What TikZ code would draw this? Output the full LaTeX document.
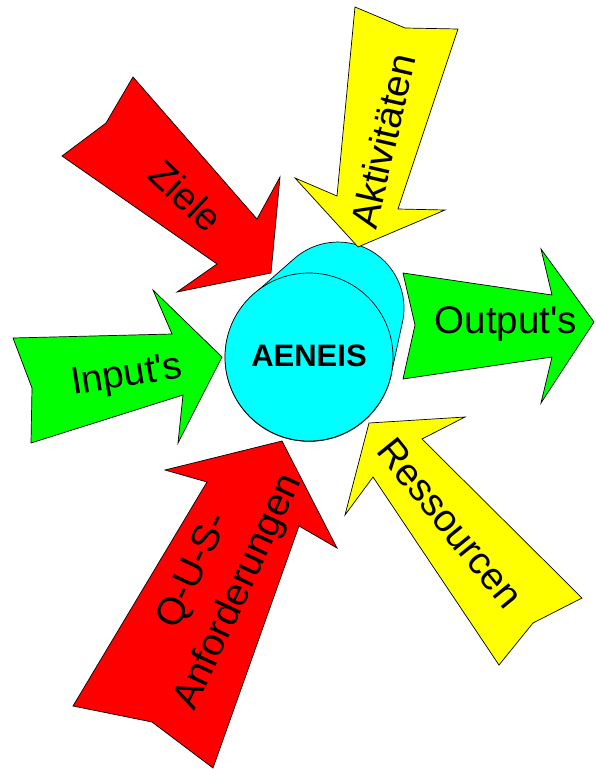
\documentclass[tikz,border=0pt]{standalone}
\usepackage{fontspec}
\setmainfont{Liberation Sans}
\newfontfamily\lab{Liberation Sans}
\definecolor{arrred}{RGB}{255,0,0}
\definecolor{arrgreen}{RGB}{0,255,0}
\definecolor{arryellow}{RGB}{255,255,0}
\definecolor{drumcyan}{RGB}{0,255,255}
\begin{document}
\begin{tikzpicture}[x=1pt,y=-1pt,
  arrowshape/.style={draw=black, line width=0.7pt, line join=miter},
  drum/.style={draw=black, line width=0.7pt, fill=drumcyan},
  lbl/.style={font=\lab\fontsize{38.5}{50}\selectfont, inner sep=0pt, align=center},
]
\useasboundingbox (0,0) rectangle (595,769);

% drum (AENEIS)
\path[drum] (391,375) -- (402.5,322) arc[start angle=12.2, end angle=-131, radius=66]
  -- (254,294) arc[start angle=-131, end angle=-347.8, radius=84] -- cycle;
\node[drum, circle, minimum size=168pt, inner sep=0pt] (front) at (309,357) {};
\node[font=\lab\bfseries\fontsize{31}{36}\selectfont, inner sep=0pt] (aeneis) at (309,356) {AENEIS};

% Ziele
\path[arrowshape, fill=arrred] (133,77) -- (257,219) -- (280,177) -- (271,273) -- (177,292)
  -- (217,264) -- (62,156) -- (106,123) -- cycle;
% Aktivitaeten
\path[arrowshape, fill=arryellow] (355,7) -- (405,28) -- (458,29) -- (398,209) -- (445,210)
  -- (358,247) -- (295,178) -- (337,196) -- cycle;
% Output's
\path[arrowshape, fill=arrgreen] (403,273) -- (552,295) -- (541,249) -- (594,322) -- (541,403)
  -- (552,357) -- (403,379) -- (415,325) -- cycle;
% Input's
\path[arrowshape, fill=arrgreen] (13,338) -- (172,334) -- (153,290) -- (222,357) -- (178,443)
  -- (183,395) -- (31,443) -- (32,388) -- cycle;
% Ressourcen
\path[arrowshape, fill=arryellow] (369,423) -- (465,417) -- (422,439) -- (582,598) -- (533,623)
  -- (499,665) -- (373,477) -- (345,515) -- cycle;
% Q-U-S-Anforderungen
\path[arrowshape, fill=arrred] (282,441) -- (337,548) -- (299,526) -- (213,768) -- (152,722)
  -- (73,706) -- (207,482) -- (165,470) -- cycle;

\node[lbl, rotate=-43] (ziele) at (186,196) {Ziele};
\node[lbl, rotate=77] (akt) at (383,141) {Aktivitäten};
\node[lbl] (out) at (506,324) {Output's};
\node[lbl, rotate=9] (in) at (127,377) {Input's};
\node[lbl, rotate=-51] (res) at (450,523) {Ressourcen};
\node[lbl, rotate=65] (qus) at (217,582) {Q-U-S-\\Anforderungen};
\end{tikzpicture}
\end{document}
